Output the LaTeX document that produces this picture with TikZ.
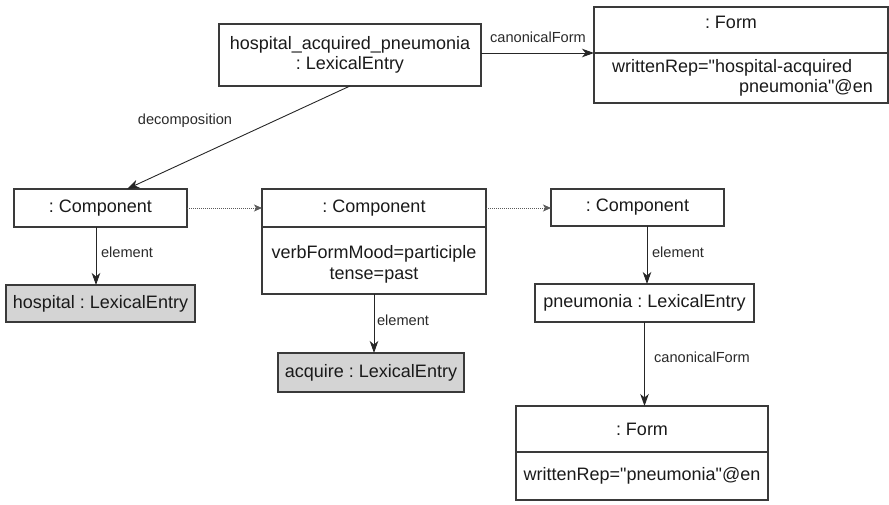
\documentclass[tikz,border=0pt]{standalone}
\usepackage{fontspec}
\setmainfont{Liberation Sans}[Ligatures=TeXOff]
\usetikzlibrary{arrows.meta}
\definecolor{boxc}{HTML}{3A3A3A}
\definecolor{txtc}{HTML}{1A1A1A}
\definecolor{labc}{HTML}{2A2A2A}
\definecolor{fillc}{HTML}{D4D4D4}
\definecolor{dotc}{HTML}{5A5A5A}
\newcommand\mybigfont{\fontsize{18}{21.5}\selectfont}
\newcommand\mylabfont{\fontsize{14.6}{17}\selectfont}
\newcommand\dq{\symbol{34}}
\frenchspacing
\begin{document}
\frenchspacing
\begin{tikzpicture}[x=1pt,y=-1pt,
  box/.style={draw=boxc, line width=1.1pt, rectangle, inner sep=0pt, outer sep=0pt, font=\mybigfont, text=txtc, align=center},
  grey/.style={box, fill=fillc},
  txt/.style={inner sep=0pt, font=\mybigfont, text=txtc, align=center},
  lab/.style={inner sep=0pt, font=\mylabfont, text=labc},
  arr/.style={draw=black!85, line width=0.9pt, -{Stealth[length=12pt,width=8.5pt,inset=3.5pt]}},
  dotarr/.style={draw=dotc, line width=0.9pt, dash pattern=on 1pt off 1pt, -{Stealth[length=8pt,width=7pt,inset=2pt]}}]
\useasboundingbox (0,0) rectangle (889,504);

% top lexical entry
\node[box, minimum width=262pt, minimum height=62pt] (hap) at (350,55)
  {hospital\_acquired\_pneumonia\\[-1pt]: LexicalEntry};

% top form
\node[box, minimum width=294pt, minimum height=46pt] (ftH) at (741,30) {};
\node[box, minimum width=294pt, minimum height=50pt] (ftB) at (741,78) {};
\node[txt] (ftHt) at (731,22) {: Form};
\node[txt, anchor=west] (ftB1) at (612,68) {writtenRep=\dq hospital-acquired};
\node[txt, anchor=east] (ftB2) at (873,88) {pneumonia\dq @en};

% components
\node[box, minimum width=173pt, minimum height=38pt] (c1) at (100.5,208) {: Component};
\node[grey, minimum width=189pt, minimum height=37pt] (hosp) at (100.5,303.5) {hospital : LexicalEntry};

\node[box, minimum width=224pt, minimum height=38pt] (c2) at (374,208) {: Component};
\node[box, minimum width=224pt, minimum height=67pt] (c2b) at (374,260.5) {};
\node[txt] (c2bt) at (374,264.5) {verbFormMood=participle\\[-1pt]tense=past};
\node[grey, minimum width=186pt, minimum height=39pt] (acq) at (371,372.5) {acquire : LexicalEntry};

\node[box, minimum width=173pt, minimum height=37pt] (c3) at (637.5,207.5) {: Component};
\node[box, minimum width=219pt, minimum height=38pt] (pneu) at (644.5,303) {pneumonia : LexicalEntry};

% bottom form
\node[box, minimum width=252pt, minimum height=46pt] (fbH) at (642,429) {: Form};
\node[box, minimum width=252pt, minimum height=48pt] (fbB) at (642,476) {writtenRep=\dq pneumonia\dq @en};

% connectors
\draw[arr] (hap.east |- ftH.south west) -- (ftH.south west);
\node[lab] (l1) at (538,37) {canonicalForm};

\draw[arr] (hap.south) -- ([xshift=26.5pt]c1.north);
\node[lab] (l2) at (185,121) {decomposition};

\draw[arr] ([xshift=-4.5pt]c1.south) -- ([xshift=-4.5pt]hosp.north);
\node[lab] (l3) at (127,252) {element};

\draw[dotarr] (c1.east) -- (c2.west);
\draw[dotarr] (c2.east) -- (c2.east -| c3.west);

\draw[arr] (c2b.south) -- (c2b.south |- acq.north);
\node[lab] (l4) at (403,320) {element};

\draw[arr] ([xshift=9.5pt]c3.south) -- ([xshift=9.5pt]c3.south |- pneu.north);
\node[lab] (l5) at (678,252) {element};

\draw[arr] (pneu.south) -- (pneu.south |- fbH.north);
\node[lab] (l6) at (702,357) {canonicalForm};
\end{tikzpicture}
\end{document}
